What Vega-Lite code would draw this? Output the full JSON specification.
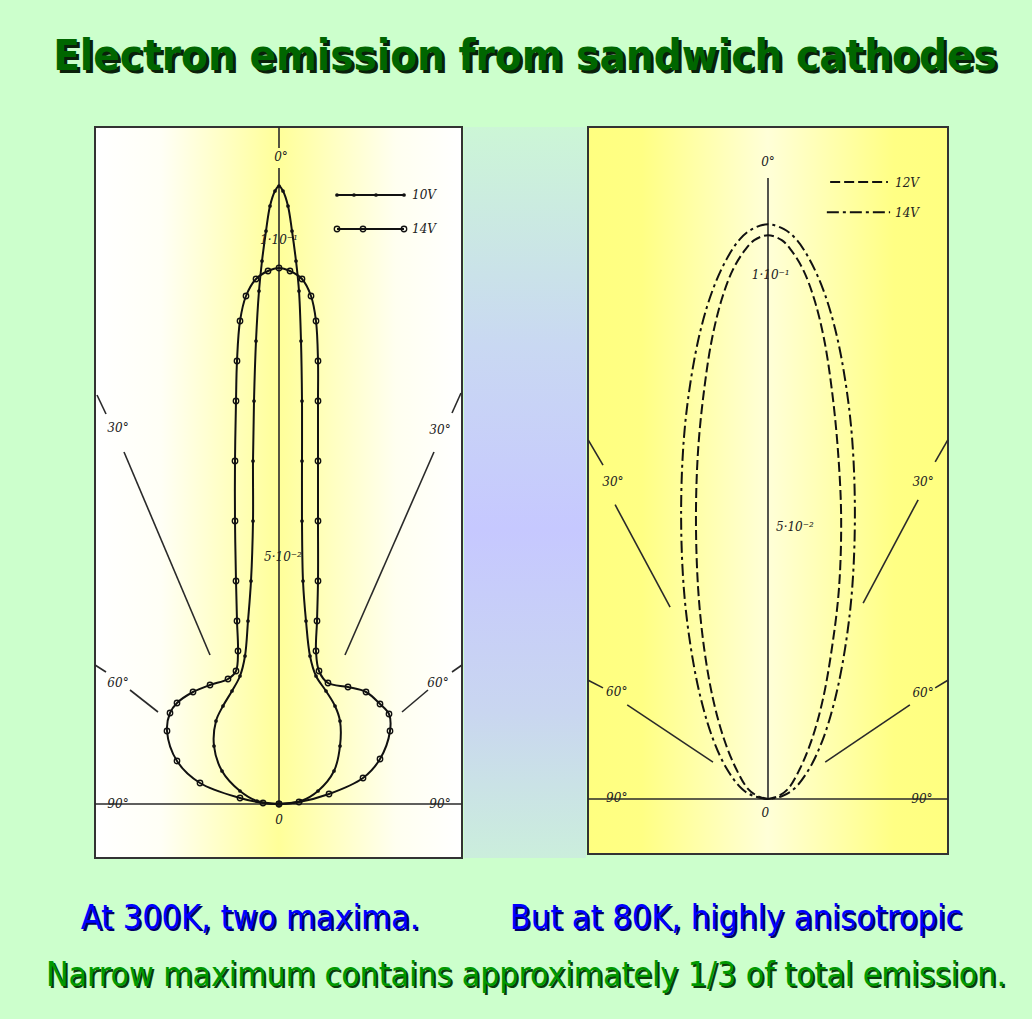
{
  "$schema": "https://vega.github.io/schema/vega-lite/v6.json",
  "background": "#ccffcc",
  "padding": 0,
  "config": {"view": {"stroke": null}, "concat": {"spacing": 0}},
  "datasets": {
    "lc": [
      {"s":"10V","p":"c","i":0,"x":0,"y":0},{"s":"10V","p":"c","i":1,"x":-0.44,"y":0.06},{"s":"10V","p":"c","i":2,"x":-0.78,"y":0.26},{"s":"10V","p":"c","i":3,"x":-1.14,"y":0.66},{"s":"10V","p":"c","i":4,"x":-1.3,"y":1.16},{"s":"10V","p":"c","i":5,"x":-1.26,"y":1.66},{"s":"10V","p":"c","i":6,"x":-1.12,"y":1.96},{"s":"10V","p":"c","i":7,"x":-0.94,"y":2.26},{"s":"10V","p":"c","i":8,"x":-0.78,"y":2.56},{"s":"10V","p":"c","i":9,"x":-0.68,"y":2.96},{"s":"10V","p":"c","i":10,"x":-0.62,"y":3.66},{"s":"10V","p":"c","i":11,"x":-0.56,"y":4.46},{"s":"10V","p":"c","i":12,"x":-0.52,"y":5.66},{"s":"10V","p":"c","i":13,"x":-0.52,"y":6.86},{"s":"10V","p":"c","i":14,"x":-0.5,"y":8.06},{"s":"10V","p":"c","i":15,"x":-0.46,"y":9.26},{"s":"10V","p":"c","i":16,"x":-0.4,"y":10.26},{"s":"10V","p":"c","i":17,"x":-0.34,"y":10.86},{"s":"10V","p":"c","i":18,"x":-0.26,"y":11.46},{"s":"10V","p":"c","i":19,"x":-0.18,"y":11.96},{"s":"10V","p":"c","i":20,"x":-0.08,"y":12.26},{"s":"10V","p":"c","i":21,"x":0,"y":12.36},{"s":"10V","p":"c","i":22,"x":0.08,"y":12.26},{"s":"10V","p":"c","i":23,"x":0.18,"y":11.96},{"s":"10V","p":"c","i":24,"x":0.26,"y":11.46},{"s":"10V","p":"c","i":25,"x":0.34,"y":10.86},{"s":"10V","p":"c","i":26,"x":0.4,"y":10.26},{"s":"10V","p":"c","i":27,"x":0.44,"y":9.26},{"s":"10V","p":"c","i":28,"x":0.46,"y":8.06},{"s":"10V","p":"c","i":29,"x":0.46,"y":6.86},{"s":"10V","p":"c","i":30,"x":0.46,"y":5.66},{"s":"10V","p":"c","i":31,"x":0.48,"y":4.46},{"s":"10V","p":"c","i":32,"x":0.54,"y":3.66},{"s":"10V","p":"c","i":33,"x":0.62,"y":2.96},{"s":"10V","p":"c","i":34,"x":0.74,"y":2.56},{"s":"10V","p":"c","i":35,"x":0.94,"y":2.26},{"s":"10V","p":"c","i":36,"x":1.12,"y":1.96},{"s":"10V","p":"c","i":37,"x":1.22,"y":1.66},{"s":"10V","p":"c","i":38,"x":1.22,"y":1.16},{"s":"10V","p":"c","i":39,"x":1.1,"y":0.66},{"s":"10V","p":"c","i":40,"x":0.78,"y":0.26},{"s":"10V","p":"c","i":41,"x":0.44,"y":0.06},{"s":"10V","p":"c","i":42,"x":0,"y":0},
      {"s":"14V","p":"c","i":0,"x":0,"y":0},{"s":"14V","p":"c","i":1,"x":-0.32,"y":0.02},{"s":"14V","p":"c","i":2,"x":-0.78,"y":0.12},{"s":"14V","p":"c","i":3,"x":-1.58,"y":0.42},{"s":"14V","p":"c","i":4,"x":-2.04,"y":0.86},{"s":"14V","p":"c","i":5,"x":-2.24,"y":1.46},{"s":"14V","p":"c","i":6,"x":-2.18,"y":1.82},{"s":"14V","p":"c","i":7,"x":-2.04,"y":2.02},{"s":"14V","p":"c","i":8,"x":-1.72,"y":2.24},{"s":"14V","p":"c","i":9,"x":-1.38,"y":2.38},{"s":"14V","p":"c","i":10,"x":-1.02,"y":2.5},{"s":"14V","p":"c","i":11,"x":-0.86,"y":2.66},{"s":"14V","p":"c","i":12,"x":-0.82,"y":3.06},{"s":"14V","p":"c","i":13,"x":-0.84,"y":3.66},{"s":"14V","p":"c","i":14,"x":-0.86,"y":4.46},{"s":"14V","p":"c","i":15,"x":-0.88,"y":5.66},{"s":"14V","p":"c","i":16,"x":-0.88,"y":6.86},{"s":"14V","p":"c","i":17,"x":-0.86,"y":8.06},{"s":"14V","p":"c","i":18,"x":-0.84,"y":8.86},{"s":"14V","p":"c","i":19,"x":-0.78,"y":9.66},{"s":"14V","p":"c","i":20,"x":-0.66,"y":10.16},{"s":"14V","p":"c","i":21,"x":-0.46,"y":10.5},{"s":"14V","p":"c","i":22,"x":-0.22,"y":10.66},{"s":"14V","p":"c","i":23,"x":0,"y":10.72},{"s":"14V","p":"c","i":24,"x":0.22,"y":10.66},{"s":"14V","p":"c","i":25,"x":0.46,"y":10.5},{"s":"14V","p":"c","i":26,"x":0.64,"y":10.16},{"s":"14V","p":"c","i":27,"x":0.74,"y":9.66},{"s":"14V","p":"c","i":28,"x":0.78,"y":8.86},{"s":"14V","p":"c","i":29,"x":0.78,"y":8.06},{"s":"14V","p":"c","i":30,"x":0.78,"y":6.86},{"s":"14V","p":"c","i":31,"x":0.78,"y":5.66},{"s":"14V","p":"c","i":32,"x":0.78,"y":4.46},{"s":"14V","p":"c","i":33,"x":0.76,"y":3.66},{"s":"14V","p":"c","i":34,"x":0.74,"y":3.06},{"s":"14V","p":"c","i":35,"x":0.8,"y":2.66},{"s":"14V","p":"c","i":36,"x":0.98,"y":2.42},{"s":"14V","p":"c","i":37,"x":1.38,"y":2.34},{"s":"14V","p":"c","i":38,"x":1.74,"y":2.24},{"s":"14V","p":"c","i":39,"x":2.02,"y":2.0},{"s":"14V","p":"c","i":40,"x":2.2,"y":1.8},{"s":"14V","p":"c","i":41,"x":2.22,"y":1.46},{"s":"14V","p":"c","i":42,"x":2.02,"y":0.9},{"s":"14V","p":"c","i":43,"x":1.68,"y":0.52},{"s":"14V","p":"c","i":44,"x":1.0,"y":0.2},{"s":"14V","p":"c","i":45,"x":0.4,"y":0.04},{"s":"14V","p":"c","i":46,"x":0,"y":0},
      {"s":"10V","p":"l","i":0,"x":1.16,"y":12.18},{"s":"10V","p":"l","i":1,"x":1.5,"y":12.18},{"s":"10V","p":"l","i":2,"x":1.94,"y":12.18},{"s":"10V","p":"l","i":3,"x":2.5,"y":12.18},
      {"s":"14V","p":"l","i":0,"x":1.16,"y":11.5},{"s":"14V","p":"l","i":1,"x":1.68,"y":11.5},{"s":"14V","p":"l","i":2,"x":2.5,"y":11.5}
    ],
    "lr": [
      {"x":0,"y":0,"x2":0,"y2":12.72},{"x":0,"y":13.12,"x2":0,"y2":13.54},{"x":-3.68,"y":0,"x2":3.66,"y2":0},
      {"x":-3.64,"y":8.18,"x2":-3.46,"y2":7.8},{"x":-3.1,"y":7.04,"x2":-1.38,"y2":2.98},
      {"x":3.64,"y":8.22,"x2":3.46,"y2":7.82},{"x":3.1,"y":7.04,"x2":1.32,"y2":2.98},
      {"x":-3.68,"y":2.78,"x2":-3.46,"y2":2.64},{"x":-2.98,"y":2.28,"x2":-2.42,"y2":1.84},
      {"x":3.66,"y":2.78,"x2":3.46,"y2":2.64},{"x":2.98,"y":2.28,"x2":2.46,"y2":1.84}
    ],
    "ll": [
      {"x":0.04,"y":12.94,"t":"0°"},{"x":0,"y":11.28,"t":"1·10⁻¹"},{"x":0.08,"y":4.94,"t":"5·10⁻²"},{"x":0,"y":-0.32,"t":"0"},
      {"x":-3.22,"y":7.52,"t":"30°"},{"x":3.22,"y":7.48,"t":"30°"},{"x":-3.22,"y":2.42,"t":"60°"},{"x":3.18,"y":2.42,"t":"60°"},
      {"x":-3.22,"y":0,"t":"90°"},{"x":3.22,"y":0,"t":"90°"}
    ],
    "lg": [{"x":2.66,"y":12.18,"t":"10V"},{"x":2.66,"y":11.5,"t":"14V"}],
    "rc": [
      {"s":"14V","p":"c","i":0,"x":0,"y":0},{"s":"14V","p":"c","i":1,"x":-0.25,"y":0.05},{"s":"14V","p":"c","i":2,"x":-0.47,"y":0.18},{"s":"14V","p":"c","i":3,"x":-0.75,"y":0.55},{"s":"14V","p":"c","i":4,"x":-1.0,"y":1.09},{"s":"14V","p":"c","i":5,"x":-1.22,"y":1.82},{"s":"14V","p":"c","i":6,"x":-1.4,"y":2.73},{"s":"14V","p":"c","i":7,"x":-1.53,"y":3.82},{"s":"14V","p":"c","i":8,"x":-1.58,"y":5.18},{"s":"14V","p":"c","i":9,"x":-1.53,"y":6.55},{"s":"14V","p":"c","i":10,"x":-1.4,"y":7.64},{"s":"14V","p":"c","i":11,"x":-1.22,"y":8.55},{"s":"14V","p":"c","i":12,"x":-1.0,"y":9.27},{"s":"14V","p":"c","i":13,"x":-0.75,"y":9.82},{"s":"14V","p":"c","i":14,"x":-0.51,"y":10.18},{"s":"14V","p":"c","i":15,"x":-0.29,"y":10.36},{"s":"14V","p":"c","i":16,"x":0,"y":10.45},{"s":"14V","p":"c","i":17,"x":0.29,"y":10.36},{"s":"14V","p":"c","i":18,"x":0.51,"y":10.18},{"s":"14V","p":"c","i":19,"x":0.75,"y":9.82},{"s":"14V","p":"c","i":20,"x":1.0,"y":9.27},{"s":"14V","p":"c","i":21,"x":1.22,"y":8.55},{"s":"14V","p":"c","i":22,"x":1.4,"y":7.64},{"s":"14V","p":"c","i":23,"x":1.53,"y":6.55},{"s":"14V","p":"c","i":24,"x":1.58,"y":5.18},{"s":"14V","p":"c","i":25,"x":1.53,"y":3.82},{"s":"14V","p":"c","i":26,"x":1.4,"y":2.73},{"s":"14V","p":"c","i":27,"x":1.22,"y":1.82},{"s":"14V","p":"c","i":28,"x":1.0,"y":1.09},{"s":"14V","p":"c","i":29,"x":0.75,"y":0.55},{"s":"14V","p":"c","i":30,"x":0.47,"y":0.18},{"s":"14V","p":"c","i":31,"x":0.25,"y":0.05},{"s":"14V","p":"c","i":32,"x":0,"y":0},
      {"s":"12V","p":"c","i":0,"x":0,"y":0},{"s":"12V","p":"c","i":1,"x":-0.18,"y":0.05},{"s":"12V","p":"c","i":2,"x":-0.36,"y":0.18},{"s":"12V","p":"c","i":3,"x":-0.58,"y":0.55},{"s":"12V","p":"c","i":4,"x":-0.8,"y":1.09},{"s":"12V","p":"c","i":5,"x":-1.0,"y":1.82},{"s":"12V","p":"c","i":6,"x":-1.16,"y":2.73},{"s":"12V","p":"c","i":7,"x":-1.27,"y":3.82},{"s":"12V","p":"c","i":8,"x":-1.31,"y":5.13},{"s":"12V","p":"c","i":9,"x":-1.27,"y":6.36},{"s":"12V","p":"c","i":10,"x":-1.16,"y":7.45},{"s":"12V","p":"c","i":11,"x":-1.02,"y":8.36},{"s":"12V","p":"c","i":12,"x":-0.84,"y":9.09},{"s":"12V","p":"c","i":13,"x":-0.64,"y":9.62},{"s":"12V","p":"c","i":14,"x":-0.42,"y":9.98},{"s":"12V","p":"c","i":15,"x":-0.25,"y":10.16},{"s":"12V","p":"c","i":16,"x":0,"y":10.25},{"s":"12V","p":"c","i":17,"x":0.25,"y":10.16},{"s":"12V","p":"c","i":18,"x":0.42,"y":9.98},{"s":"12V","p":"c","i":19,"x":0.64,"y":9.62},{"s":"12V","p":"c","i":20,"x":0.84,"y":9.09},{"s":"12V","p":"c","i":21,"x":1.02,"y":8.36},{"s":"12V","p":"c","i":22,"x":1.16,"y":7.45},{"s":"12V","p":"c","i":23,"x":1.27,"y":6.36},{"s":"12V","p":"c","i":24,"x":1.33,"y":5.13},{"s":"12V","p":"c","i":25,"x":1.29,"y":3.82},{"s":"12V","p":"c","i":26,"x":1.16,"y":2.73},{"s":"12V","p":"c","i":27,"x":1.0,"y":1.82},{"s":"12V","p":"c","i":28,"x":0.8,"y":1.09},{"s":"12V","p":"c","i":29,"x":0.58,"y":0.55},{"s":"12V","p":"c","i":30,"x":0.36,"y":0.18},{"s":"12V","p":"c","i":31,"x":0.18,"y":0.05},{"s":"12V","p":"c","i":32,"x":0,"y":0},
      {"s":"12V","p":"l","i":0,"x":1.13,"y":11.22},{"s":"12V","p":"l","i":1,"x":2.18,"y":11.22},
      {"s":"14V","p":"l","i":0,"x":1.07,"y":10.67},{"s":"14V","p":"l","i":1,"x":2.22,"y":10.67}
    ],
    "rr": [
      {"x":0,"y":0,"x2":0,"y2":11.29},{"x":-3.273,"y":0,"x2":3.273,"y2":0},
      {"x":-3.27,"y":6.53,"x2":-3.0,"y2":6.07},{"x":-2.78,"y":5.35,"x2":-1.78,"y2":3.49},
      {"x":3.27,"y":6.53,"x2":3.04,"y2":6.13},{"x":2.73,"y":5.44,"x2":1.73,"y2":3.56},
      {"x":-3.27,"y":2.16,"x2":-3.0,"y2":2.02},{"x":-2.56,"y":1.71,"x2":-1.0,"y2":0.67},
      {"x":3.27,"y":2.16,"x2":3.04,"y2":2.02},{"x":2.58,"y":1.71,"x2":1.04,"y2":0.67}
    ],
    "rl": [
      {"x":0,"y":11.58,"t":"0°"},{"x":0.05,"y":9.53,"t":"1·10⁻¹"},{"x":0.49,"y":4.95,"t":"5·10⁻²"},{"x":-0.05,"y":-0.25,"t":"0"},
      {"x":-2.82,"y":5.76,"t":"30°"},{"x":2.82,"y":5.76,"t":"30°"},{"x":-2.75,"y":1.95,"t":"60°"},{"x":2.82,"y":1.93,"t":"60°"},
      {"x":-2.75,"y":0.02,"t":"90°"},{"x":2.8,"y":0,"t":"90°"}
    ],
    "rg": [{"x":2.31,"y":11.2,"t":"12V"},{"x":2.31,"y":10.65,"t":"14V"}]
  },
  "vconcat": [
    {
      "width": 1032, "height": 125,
      "data": {"values": [{"t": "Electron emission from sandwich cathodes"}]},
      "layer": [
        {"mark": {"type": "text", "font": "DejaVu Sans Condensed", "fontSize": 43.5, "fontWeight": "bold", "color": "#0a200a", "baseline": "alphabetic", "dx": 12, "dy": 10}, "encoding": {"text": {"field": "t"}}},
        {"mark": {"type": "text", "font": "DejaVu Sans Condensed", "fontSize": 43.5, "fontWeight": "bold", "color": "#006600", "baseline": "alphabetic", "dx": 9, "dy": 7}, "encoding": {"text": {"field": "t"}}}
      ]
    },
    {
      "hconcat": [
        {"width": 93, "height": 10, "data": {"values": [{}]}, "mark": {"type": "text"}, "encoding": {"text": {"value": ""}}},
        {
          "width": 367, "height": 731,
          "view": {"fill": {"gradient": "linear", "x1": 0, "y1": 0, "x2": 1, "y2": 0, "stops": [{"offset": 0, "color": "#ffffff"}, {"offset": 0.18, "color": "#fffff6"}, {"offset": 0.5, "color": "#ffff99"}, {"offset": 0.82, "color": "#fffff0"}, {"offset": 1, "color": "#ffffff"}]}, "stroke": "#333333", "strokeWidth": 2},
          "encoding": {
            "x": {"field": "x", "type": "quantitative", "scale": {"domain": [-3.68, 3.66], "nice": false, "zero": false}, "axis": null},
            "y": {"field": "y", "type": "quantitative", "scale": {"domain": [-1.08, 13.54], "nice": false, "zero": false}, "axis": null}
          },
          "layer": [
            {"data": {"name": "lr"}, "mark": {"type": "rule", "color": "#2a2a2a", "strokeWidth": 1.6}, "encoding": {"x2": {"field": "x2"}, "y2": {"field": "y2"}}},
            {"data": {"name": "lc"}, "mark": {"type": "line", "color": "#111111", "strokeWidth": 2, "interpolate": "catmull-rom"}, "encoding": {"detail": [{"field": "s", "type": "nominal"}, {"field": "p", "type": "nominal"}], "order": {"field": "i", "type": "quantitative"}}},
            {"data": {"name": "lc"}, "transform": [{"filter": "datum.s === '10V'"}], "mark": {"type": "point", "filled": true, "color": "#111111", "size": 14, "opacity": 1}},
            {"data": {"name": "lc"}, "transform": [{"filter": "datum.s === '14V'"}], "mark": {"type": "point", "filled": false, "color": "#111111", "size": 30, "strokeWidth": 1.3, "opacity": 1}},
            {"data": {"name": "ll"}, "mark": {"type": "text", "font": "DejaVu Serif", "fontStyle": "italic", "fontSize": 12, "color": "#222222"}, "encoding": {"text": {"field": "t"}}},
            {"data": {"name": "lg"}, "mark": {"type": "text", "font": "DejaVu Serif", "fontStyle": "italic", "fontSize": 12, "color": "#222222", "align": "left"}, "encoding": {"text": {"field": "t"}}}
          ]
        },
        {
          "width": 122, "height": 731,
          "view": {"fill": {"gradient": "linear", "x1": 0, "y1": 0, "x2": 0, "y2": 1, "stops": [{"offset": 0, "color": "#ccf6d6"}, {"offset": 0.3, "color": "#c9d8f2"}, {"offset": 0.55, "color": "#c6c8ff"}, {"offset": 0.8, "color": "#c9d6f0"}, {"offset": 1, "color": "#cbeedc"}]}},
          "data": {"values": [{}]}, "mark": {"type": "text"}, "encoding": {"text": {"value": ""}}
        },
        {
          "width": 360, "height": 727,
          "view": {"fill": {"gradient": "linear", "x1": 0, "y1": 0, "x2": 1, "y2": 0, "stops": [{"offset": 0, "color": "#ffff80"}, {"offset": 0.15, "color": "#ffff84"}, {"offset": 0.5, "color": "#ffffd8"}, {"offset": 0.85, "color": "#ffff84"}, {"offset": 1, "color": "#ffff80"}]}, "stroke": "#333333", "strokeWidth": 2},
          "encoding": {
            "x": {"field": "x", "type": "quantitative", "scale": {"domain": [-3.273, 3.273], "nice": false, "zero": false}, "axis": null},
            "y": {"field": "y", "type": "quantitative", "scale": {"domain": [-1.0, 12.218], "nice": false, "zero": false}, "axis": null}
          },
          "layer": [
            {"data": {"name": "rr"}, "mark": {"type": "rule", "color": "#2a2a2a", "strokeWidth": 1.6}, "encoding": {"x2": {"field": "x2"}, "y2": {"field": "y2"}}},
            {"data": {"name": "rc"}, "transform": [{"filter": "datum.s === '12V'"}], "mark": {"type": "line", "color": "#111111", "strokeWidth": 2, "strokeDash": [10, 4], "interpolate": "catmull-rom"}, "encoding": {"detail": {"field": "p", "type": "nominal"}, "order": {"field": "i", "type": "quantitative"}}},
            {"data": {"name": "rc"}, "transform": [{"filter": "datum.s === '14V'"}], "mark": {"type": "line", "color": "#111111", "strokeWidth": 2, "strokeDash": [12, 4, 3, 4], "interpolate": "catmull-rom"}, "encoding": {"detail": {"field": "p", "type": "nominal"}, "order": {"field": "i", "type": "quantitative"}}},
            {"data": {"name": "rl"}, "mark": {"type": "text", "font": "DejaVu Serif", "fontStyle": "italic", "fontSize": 12, "color": "#222222"}, "encoding": {"text": {"field": "t"}}},
            {"data": {"name": "rg"}, "mark": {"type": "text", "font": "DejaVu Serif", "fontStyle": "italic", "fontSize": 12, "color": "#222222", "align": "left"}, "encoding": {"text": {"field": "t"}}}
          ]
        }
      ],
      "spacing": 0
    },
    {
      "hconcat": [
        {
          "width": 516, "height": 90,
          "data": {"values": [{"t": "At 300K, two maxima."}]},
          "layer": [
            {"mark": {"type": "text", "font": "DejaVu Sans Condensed", "fontSize": 34, "color": "#000066", "baseline": "alphabetic", "dx": -6, "dy": 27}, "encoding": {"text": {"field": "t"}}},
            {"mark": {"type": "text", "font": "DejaVu Sans Condensed", "fontSize": 34, "color": "#0000ff", "baseline": "alphabetic", "dx": -8, "dy": 25}, "encoding": {"text": {"field": "t"}}}
          ]
        },
        {
          "width": 516, "height": 90,
          "data": {"values": [{"t": "But at 80K, highly anisotropic"}]},
          "layer": [
            {"mark": {"type": "text", "font": "DejaVu Sans Condensed", "fontSize": 34, "color": "#000066", "baseline": "alphabetic", "dx": -36, "dy": 27}, "encoding": {"text": {"field": "t"}}},
            {"mark": {"type": "text", "font": "DejaVu Sans Condensed", "fontSize": 34, "color": "#0000ff", "baseline": "alphabetic", "dx": -38, "dy": 25}, "encoding": {"text": {"field": "t"}}}
          ]
        }
      ],
      "spacing": 0, "bounds": "flush"
    },
    {
      "width": 1032, "height": 71,
      "data": {"values": [{"t": "Narrow maximum contains approximately 1/3 of total emission."}]},
      "layer": [
        {"mark": {"type": "text", "font": "DejaVu Sans Condensed", "fontSize": 33.5, "color": "#0b3a0b", "baseline": "alphabetic", "dx": 12, "dy": 3.5}, "encoding": {"text": {"field": "t"}}},
        {"mark": {"type": "text", "font": "DejaVu Sans Condensed", "fontSize": 33.5, "color": "#009900", "baseline": "alphabetic", "dx": 10, "dy": 1.5}, "encoding": {"text": {"field": "t"}}}
      ]
    }
  ],
  "spacing": 0
}
